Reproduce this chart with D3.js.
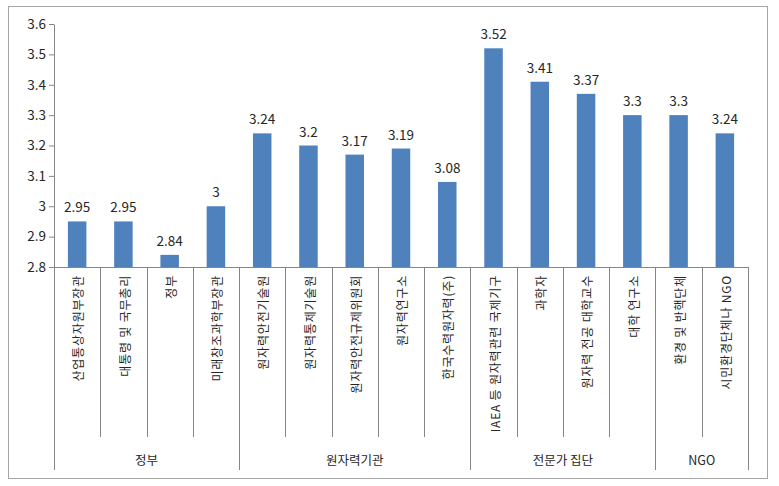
<!DOCTYPE html>
<html>
<head>
<meta charset="utf-8">
<script src="https://cdn.jsdelivr.net/npm/d3@7"></script>
<style>
  body { margin: 0; background: #fff; }
  text { font-family: "Noto Sans CJK KR", "Noto Sans", sans-serif; fill: #262626; }
</style>
</head>
<body>
<script>
// data
const categories = ["산업통상자원부장관", "대통령 및 국무총리", "정부", "미래창조과학부장관",
  "원자력안전기술원", "원자력통제기술원", "원자력안전규제위원회", "원자력연구소", "한국수력원자력(주)",
  "IAEA 등 원자력관련 국제기구", "과학자", "원자력 전공 대학교수", "대학 연구소",
  "환경 및 반핵단체", "시민환경단체나 NGO"];
const values = [2.95, 2.95, 2.84, 3, 3.24, 3.2, 3.17, 3.19, 3.08, 3.52, 3.41, 3.37, 3.3, 3.3, 3.24];
const groupNames = ["정부", "원자력기관", "전문가 집단", "NGO"];
const groupSizes = [4, 5, 4, 2];
const yTicks = [2.8, 2.9, 3, 3.1, 3.2, 3.3, 3.4, 3.5, 3.6];

const W = 779, H = 486;
const plotLeft = 54, plotRight = 748, plotTop = 24, plotBottom = 267;

const svg = d3.select("body").append("svg")
  .attr("width", W).attr("height", H);

// outer frame
svg.append("rect")
  .attr("x", 8.5).attr("y", 6.5)
  .attr("width", 759).attr("height", 472)
  .attr("fill", "#fff").attr("stroke", "#a6a6a6");

const x = d3.scaleBand().domain(categories).range([plotLeft, plotRight]).padding(0);
const y = d3.scaleLinear().domain([2.8, 3.6]).range([plotBottom, plotTop]);

// y axis
const yAxis = svg.append("g")
  .attr("transform", "translate(" + plotLeft + ",0)")
  .call(d3.axisLeft(y).tickValues(yTicks).tickSize(5).tickSizeOuter(0)
    .tickFormat(d => String(+d.toFixed(1))));
yAxis.select(".domain").attr("stroke", "#868686");
yAxis.selectAll(".tick line").attr("stroke", "#868686");
yAxis.selectAll(".tick text").attr("x", -8).style("font-size", "13.5px").attr("fill", "#262626");

// bars
const barW = x.bandwidth() * 0.4;
svg.selectAll("rect.bar")
  .data(values)
  .enter().append("rect")
  .attr("class", "bar")
  .attr("x", (d, i) => x(categories[i]) + (x.bandwidth() - barW) / 2)
  .attr("y", d => y(d))
  .attr("width", barW)
  .attr("height", d => plotBottom - y(d))
  .attr("fill", "#4f81bd");

// value labels
svg.selectAll("text.val")
  .data(values)
  .enter().append("text")
  .attr("class", "val")
  .attr("x", (d, i) => x(categories[i]) + x.bandwidth() / 2)
  .attr("y", d => y(d) - 9)
  .attr("text-anchor", "middle")
  .style("font-size", "13.5px")
  .text(d => d);

// x axis baseline
svg.append("line")
  .attr("x1", plotLeft).attr("x2", plotRight)
  .attr("y1", plotBottom + 0.5).attr("y2", plotBottom + 0.5)
  .attr("stroke", "#868686");

// category separators
const groupStarts = [];
let acc = 0;
groupSizes.forEach(n => { groupStarts.push(acc); acc += n; });
groupStarts.push(acc);

for (let i = 0; i <= categories.length; i++) {
  const xx = i < categories.length ? x(categories[i]) : plotRight;
  const isGroupEdge = groupStarts.includes(i);
  svg.append("line")
    .attr("x1", Math.round(xx) + 0.5).attr("x2", Math.round(xx) + 0.5)
    .attr("y1", plotBottom).attr("y2", isGroupEdge ? 470 : 437)
    .attr("stroke", "#868686");
}

// rotated category labels
svg.selectAll("text.cat")
  .data(categories)
  .enter().append("text")
  .attr("class", "cat")
  .attr("transform", d => "translate(" + (x(d) + x.bandwidth() / 2 + 2) + "," + (plotBottom + 8) + ") rotate(-90)")
  .attr("text-anchor", "end")
  .attr("dy", "0.35em")
  .style("font-size", "12px")
  .style("letter-spacing", "0.8px")
  .text(d => d);

// group labels
groupNames.forEach((g, k) => {
  const x0 = x(categories[groupStarts[k]]);
  const x1 = groupStarts[k + 1] < categories.length ? x(categories[groupStarts[k + 1]]) : plotRight;
  svg.append("text")
    .attr("x", (x0 + x1) / 2)
    .attr("y", 465)
    .attr("text-anchor", "middle")
    .style("font-size", "12.5px")
    .text(g);
});
</script>
</body>
</html>
